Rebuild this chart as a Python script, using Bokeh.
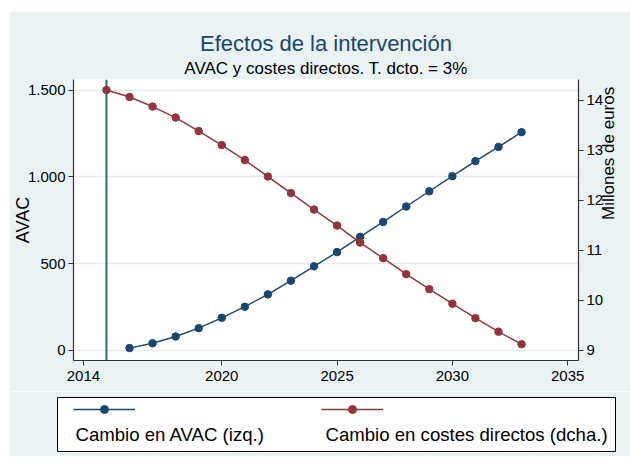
import math
from bokeh.plotting import figure
from bokeh.models import (Range1d, LinearAxis, FixedTicker, Span, Title, Legend,
                          LegendItem, Label)
from bokeh.layouts import column
from bokeh.embed import file_html
from bokeh.resources import INLINE

# ---------------- data ----------------
title_text = "Efectos de la intervención"
subtitle_text = "AVAC y costes directos. T. dcto. = 3%"
left_label = "AVAC"
right_label = "Millones de euros"
series_names = ["Cambio en AVAC (izq.)", "Cambio en costes directos (dcha.)"]

years_avac = [2016, 2017, 2018, 2019, 2020, 2021, 2022, 2023, 2024,
              2025, 2026, 2027, 2028, 2029, 2030, 2031, 2032, 2033]
avac = [12, 40, 79, 127, 187, 251, 322, 401, 484,
        566, 654, 740, 829, 917, 1004, 1091, 1173, 1258]

years_cost = [2015, 2016, 2017, 2018, 2019, 2020, 2021, 2022, 2023, 2024,
              2025, 2026, 2027, 2028, 2029, 2030, 2031, 2032, 2033]
costes = [14.20, 14.06, 13.87, 13.65, 13.38, 13.10, 12.80, 12.47, 12.14, 11.81,
          11.49, 11.15, 10.84, 10.52, 10.22, 9.93, 9.64, 9.37, 9.12]

intervention_year = 2015

x_ticks = [2014, 2020, 2025, 2030, 2035]
left_ticks = [0, 500, 1000, 1500]
left_tick_labels = ["0", "500", "1.000", "1.500"]
right_ticks = [9, 10, 11, 12, 13, 14]

# ---------------- style ----------------
FONT = "Liberation Sans"
BG = "#EAF2F3"
BLUE = "#1A476F"
RED = "#90353B"
TEAL = "#2E6E68"
AXIS = "#333333"

p = figure(width=621, height=380,
           x_range=Range1d(2013.57, 2035.47), y_range=Range1d(-59.5, 1562),
           title=None, output_backend="svg", toolbar_location=None,
           min_border_left=63, min_border_right=50, min_border_top=68,
           min_border_bottom=31)
p.frame_align = False
p.background_fill_color = "white"
p.border_fill_color = BG
p.outline_line_color = None
p.extra_y_ranges = {"right": Range1d(8.794, 14.41)}

def style_axis(ax):
    ax.axis_line_color = AXIS
    ax.axis_line_width = 1.2
    ax.major_tick_line_color = AXIS
    ax.major_tick_out = 5
    ax.major_tick_in = 0
    ax.minor_tick_line_color = None
    ax.major_label_text_font = FONT
    ax.major_label_text_font_size = "15px"
    ax.major_label_text_color = "black"
    ax.axis_label_text_font = FONT
    ax.axis_label_text_font_size = "18px"
    ax.axis_label_text_font_style = "normal"
    ax.axis_label_text_color = "black"

xa = p.xaxis[0]
style_axis(xa)
xa.ticker = FixedTicker(ticks=x_ticks)

ya = p.yaxis[0]
style_axis(ya)
ya.ticker = FixedTicker(ticks=left_ticks)
ya.major_label_overrides = {t: l for t, l in zip(left_ticks, left_tick_labels)}
ya.major_label_standoff = 3
ya.axis_label = left_label
ya.axis_label_standoff = -8

yr = LinearAxis(y_range_name="right", ticker=FixedTicker(ticks=right_ticks))
style_axis(yr)
yr.major_label_standoff = 3
yr.axis_label = right_label
yr.axis_label_text_font_size = "17px"
yr.axis_label_standoff = 2
yr.axis_label_orientation = math.pi / 2
p.add_layout(yr, "right")

p.xgrid.visible = False
p.ygrid.ticker = FixedTicker(ticks=left_ticks)
p.ygrid.grid_line_color = "#E2ECEE"
p.ygrid.grid_line_width = 1.5

p.add_layout(Title(text=subtitle_text, align="center", text_font=FONT,
                   text_font_size="17px", text_font_style="normal",
                   text_color="black", standoff=3, offset=3), "above")
p.add_layout(Title(text=title_text, align="center", text_font=FONT,
                   text_font_size="22px", text_font_style="normal",
                   text_color=BLUE, standoff=0, offset=3), "above")

p.add_layout(Span(location=intervention_year, dimension="height",
                  line_color=TEAL, line_width=2, level="underlay"))

p.line(years_avac, avac, line_color=BLUE, line_width=1.4)
p.scatter(years_avac, avac, size=7.5, fill_color=BLUE, line_color=BLUE)
p.line(years_cost, costes, line_color=RED, line_width=1.4, y_range_name="right")
p.scatter(years_cost, costes, size=7.5, fill_color=RED, line_color=RED,
          y_range_name="right")

# ---------------- legend panel ----------------
lf = figure(width=621, height=65, x_range=Range1d(0, 1), y_range=Range1d(0, 1),
            x_axis_type=None, y_axis_type=None, title=None,
            output_backend="svg", toolbar_location=None,
            min_border_left=48, min_border_right=15, min_border_top=6,
            min_border_bottom=5)
lf.frame_align = False
lf.background_fill_color = "white"
lf.border_fill_color = BG
lf.outline_line_color = "black"
lf.outline_line_width = 1

# legend sample renderers: same series, falling outside this panel's ranges
lb = lf.line(years_avac, avac, line_color=BLUE, line_width=1.4)
sb = lf.scatter(years_avac, avac, size=7.5, fill_color=BLUE, line_color=BLUE)
lr = lf.line(years_cost, costes, line_color=RED, line_width=1.4)
sr = lf.scatter(years_cost, costes, size=7.5, fill_color=RED, line_color=RED)

leg = Legend(items=[LegendItem(label=" ", renderers=[lb, sb]),
                    LegendItem(label=" ", renderers=[lr, sr])],
             orientation="horizontal", location=(16, 32),
             glyph_width=62, glyph_height=20, label_width=0, label_height=20,
             label_standoff=0, spacing=186, padding=0, margin=0,
             border_line_color=None, background_fill_alpha=0)
lf.add_layout(leg)

lf.add_layout(Label(x=18, y=17, x_units="screen", y_units="screen",
                    text=series_names[0], text_baseline="middle",
                    text_font=FONT, text_font_size="18.6px", text_color="black"))
lf.add_layout(Label(x=268, y=17, x_units="screen", y_units="screen",
                    text=series_names[1], text_baseline="middle",
                    text_font=FONT, text_font_size="18.6px", text_color="black"))

layout = column(p, lf, margin=(11, 0, 0, 9))
open("out.html", "w").write(file_html(layout, INLINE))
